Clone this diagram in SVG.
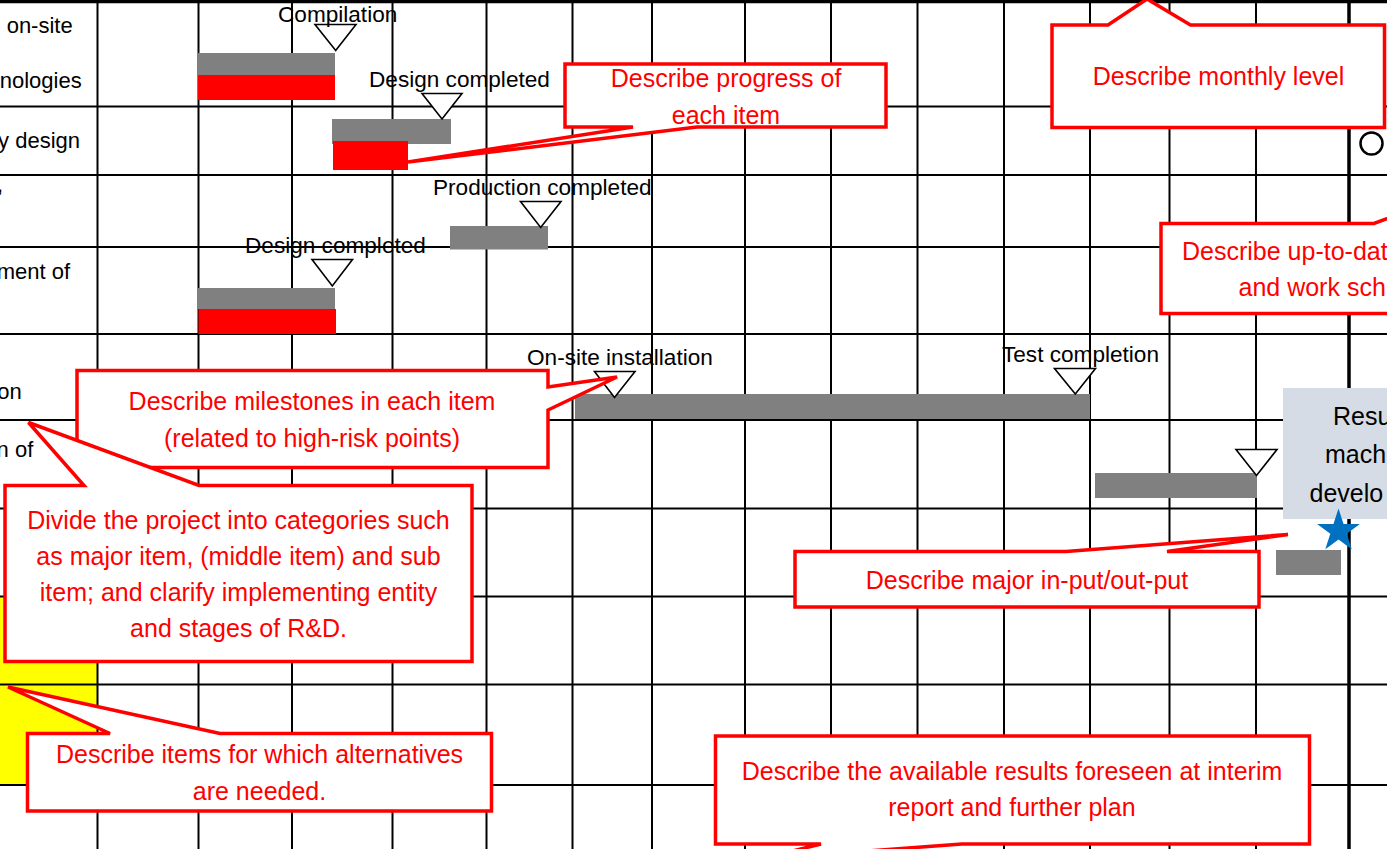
<svg xmlns="http://www.w3.org/2000/svg" width="1387" height="849" viewBox="0 0 1387 849">
<style>
  .grid { stroke: #000; stroke-width: 2; fill: none; }
  .thick { stroke: #000; stroke-width: 3.5; fill: none; }
  .bar { fill: #808080; }
  .prog { fill: #FF0000; }
  .tri { fill: #fff; stroke: #000; stroke-width: 1.6; stroke-linejoin: miter; }
  .lbl { font-family: "Liberation Sans", Arial, sans-serif; font-size: 22.6px; fill: #000; }
  .row { font-family: "Liberation Sans", Arial, sans-serif; font-size: 22px; fill: #000; text-anchor: end; }
  .call { fill: #fff; stroke: #FF0000; stroke-width: 3.5; stroke-linejoin: miter; }
  .ct { font-family: "Liberation Sans", Arial, sans-serif; font-size: 25px; fill: #FF0000; text-anchor: middle; }
  .bt { font-family: "Liberation Sans", Arial, sans-serif; font-size: 25px; fill: #000; }
</style>

<rect x="0" y="0" width="1387" height="849" fill="#fff"/>

<g id="yellow-cell">
  <rect x="0" y="597" width="97.5" height="188" fill="#FFFF00"/>
</g>

<g id="grid">
  <line class="thick" x1="0" y1="1.5" x2="1387" y2="1.5"/>
  <line class="grid" x1="0" y1="106.5" x2="1387" y2="106.5"/>
  <line class="grid" x1="0" y1="175" x2="1387" y2="175"/>
  <line class="grid" x1="0" y1="247" x2="1387" y2="247"/>
  <line class="grid" x1="0" y1="334" x2="1387" y2="334"/>
  <line class="grid" x1="0" y1="420" x2="1387" y2="420"/>
  <line class="grid" x1="0" y1="508.5" x2="1387" y2="508.5"/>
  <line class="grid" x1="0" y1="596.5" x2="1387" y2="596.5"/>
  <line class="grid" x1="0" y1="684.5" x2="1387" y2="684.5"/>
  <line class="grid" x1="0" y1="785" x2="1387" y2="785"/>
  <line class="grid" x1="97.5" y1="0" x2="97.5" y2="849"/>
  <line class="grid" x1="198.5" y1="0" x2="198.5" y2="849"/>
  <line class="grid" x1="292" y1="0" x2="292" y2="849"/>
  <line class="grid" x1="392.5" y1="0" x2="392.5" y2="849"/>
  <line class="grid" x1="486.5" y1="0" x2="486.5" y2="849"/>
  <line class="grid" x1="572.5" y1="0" x2="572.5" y2="849"/>
  <line class="grid" x1="652" y1="0" x2="652" y2="849"/>
  <line class="grid" x1="745" y1="0" x2="745" y2="849"/>
  <line class="grid" x1="831" y1="0" x2="831" y2="849"/>
  <line class="grid" x1="917.5" y1="0" x2="917.5" y2="849"/>
  <line class="grid" x1="1004" y1="0" x2="1004" y2="849"/>
  <line class="grid" x1="1090" y1="0" x2="1090" y2="849"/>
  <line class="grid" x1="1169.5" y1="0" x2="1169.5" y2="849"/>
  <line class="grid" x1="1256" y1="0" x2="1256" y2="849"/>
  <line class="thick" x1="1349" y1="0" x2="1349" y2="849"/>
</g>

<g id="row-labels">
  <text class="row" x="72.7" y="33">on-site</text>
  <text class="row" x="81.7" y="87.5">nologies</text>
  <text class="row" x="80" y="147.5">y design</text>
  <text class="row" x="3" y="192">,</text>
  <text class="row" x="70" y="279">ment of</text>
  <text class="row" x="21.7" y="398.5">on</text>
  <text class="row" x="33.3" y="457">n of</text>
</g>

<g id="bars">
  <rect class="bar" x="198" y="53" width="137" height="22"/>
  <rect class="prog" x="198" y="75" width="137" height="25"/>
  <rect class="bar" x="332" y="119" width="119" height="25"/>
  <rect class="prog" x="333" y="141" width="75" height="29"/>
  <rect class="bar" x="450" y="226" width="98" height="23.5"/>
  <rect class="bar" x="198" y="288" width="137" height="21"/>
  <rect class="prog" x="198.5" y="309" width="137.5" height="25"/>
  <rect class="bar" x="575" y="394" width="515" height="25"/>
  <rect class="bar" x="1095" y="473" width="162" height="25"/>
  <rect class="bar" x="1276" y="550" width="65" height="25"/>
</g>

<g id="milestones">
  <g id="ms-compilation">
    <polygon class="tri" points="315,24.5 356,24.5 335.7,50.5"/>
    <text class="lbl" x="278" y="22">Compilation</text>
  </g>
  <g id="ms-design1">
    <polygon class="tri" points="422,93.5 462,93.5 442,119"/>
    <text class="lbl" x="369" y="87">Design completed</text>
  </g>
  <g id="ms-production">
    <polygon class="tri" points="520.5,201.5 561,201.5 540.7,227.5"/>
    <text class="lbl" x="433" y="194.5">Production completed</text>
  </g>
  <g id="ms-design2">
    <polygon class="tri" points="312,259.5 352.5,259.5 332.3,286"/>
    <text class="lbl" x="245" y="252.5">Design completed</text>
  </g>
  <g id="ms-onsite">
    <polygon class="tri" points="594.5,371.5 635,371.5 614.5,397.5"/>
    <text class="lbl" x="527" y="364.5">On-site installation</text>
  </g>
  <g id="ms-test">
    <polygon class="tri" points="1054.5,368.5 1095.5,368.5 1075.3,394"/>
    <text class="lbl" x="1002" y="362">Test completion</text>
  </g>
  <g id="ms-row6">
    <polygon class="tri" points="1236,449.5 1277,449.5 1256.5,475.5"/>
  </g>
</g>

<g id="result-box">
  <rect x="1283" y="388" width="110" height="131" fill="#D6DCE5"/>
  <text class="bt" x="1333" y="425">Resu</text>
  <text class="bt" x="1325" y="463">mach</text>
  <text class="bt" x="1309.5" y="501.5">develo</text>
</g>

<g id="star">
  <polygon fill="#0070C0" points="1338.5,508.5 1343.55,524.04 1359.9,524.05 1346.68,533.66 1351.73,549.2 1338.5,539.6 1325.27,549.2 1330.32,533.66 1317.1,524.05 1333.45,524.04"/>
</g>

<g id="circle-mark">
  <circle cx="1371.5" cy="143.5" r="11" fill="#fff" stroke="#000" stroke-width="2.5"/>
</g>

<g id="callout-progress">
  <path class="call" d="M565,64 H886 V127 H697 L408,162 L633,127 H565 Z"/>
  <text class="ct" x="726" y="87">Describe progress of</text>
  <text class="ct" x="726" y="123.5">each item</text>
</g>

<g id="callout-monthly">
  <path class="call" d="M1052,25 H1108 L1147,-1 L1190.5,25 H1384.5 V127.5 H1052 Z"/>
  <text class="ct" x="1218.5" y="85">Describe monthly level</text>
</g>

<g id="callout-uptodate">
  <path class="call" d="M1161,223.5 H1374 L1405,212 L1420,223.5 V313.5 H1161 Z"/>
  <text class="ct" x="1182" y="259.5" text-anchor="start" style="text-anchor:start">Describe up-to-dat</text>
  <text class="ct" x="1238.5" y="295.5" style="text-anchor:start">and work sch</text>
</g>

<g id="callout-milestones">
  <path class="call" d="M77,370.5 H548 V387 L617,377 L548,410 V467.5 H77 Z"/>
  <text class="ct" x="312" y="410">Describe milestones in each item</text>
  <text class="ct" x="312" y="446.5">(related to high-risk points)</text>
</g>

<g id="callout-divide">
  <path class="call" d="M5,485.5 H84 L28.5,422.5 L199,485.5 H472 V661.5 H5 Z"/>
  <text class="ct" x="238.5" y="528.5">Divide the project into categories such</text>
  <text class="ct" x="238.5" y="564.5">as major item, (middle item) and sub</text>
  <text class="ct" x="238.5" y="600.5">item; and clarify implementing entity</text>
  <text class="ct" x="238.5" y="636.5">and stages of R&amp;D.</text>
</g>

<g id="callout-inout">
  <path class="call" d="M795,551.5 H1066 L1288,534.5 L1167,551.5 H1259 V607 H795 Z"/>
  <text class="ct" x="1027" y="588.5">Describe major in-put/out-put</text>
</g>

<g id="callout-alternatives">
  <path class="call" d="M27.5,733.5 H110 L8,687 L220,733.5 H491.5 V811 H27.5 Z"/>
  <text class="ct" x="259.5" y="762.5">Describe items for which alternatives</text>
  <text class="ct" x="259.5" y="799.5">are needed.</text>
</g>

<g id="callout-interim">
  <path class="call" d="M715.5,736 H1309.5 V844 H962 L760,859 L821,844 H715.5 Z"/>
  <text class="ct" x="1012" y="780">Describe the available results foreseen at interim</text>
  <text class="ct" x="1012" y="816">report and further plan</text>
</g>
</svg>
